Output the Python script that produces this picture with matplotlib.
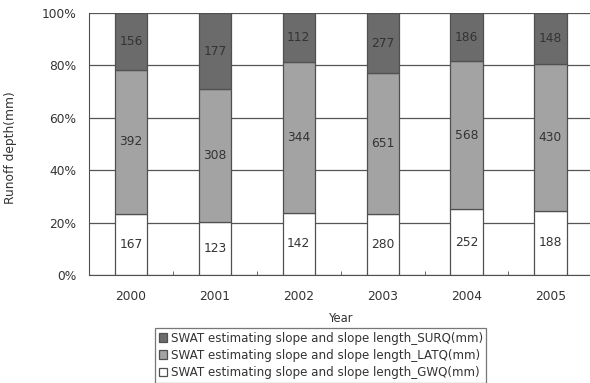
import matplotlib
matplotlib.use("Agg")
import matplotlib.pyplot as plt
import numpy as np

years = ["2000", "2001", "2002", "2003", "2004", "2005"]
gwq = [167, 123, 142, 280, 252, 188]
latq = [392, 308, 344, 651, 568, 430]
surq = [156, 177, 112, 277, 186, 148]
yticklabels = ["0%", "20%", "40%", "60%", "80%", "100%"]
legend_labels = [
    "SWAT estimating slope and slope length_SURQ(mm)",
    "SWAT estimating slope and slope length_LATQ(mm)",
    "SWAT estimating slope and slope length_GWQ(mm)",
]

plt.rcParams['font.family'] = ['DejaVu Sans']
fig = plt.figure(figsize=(5.9, 3.83), dpi=100)
ax = fig.add_axes([0.151, 0.282, 0.853, 0.684])

x = np.arange(len(years))
g = np.array(gwq, float); l = np.array(latq, float); s = np.array(surq, float)
tot = g + l + s
gp, lp, sp = g / tot * 100, l / tot * 100, s / tot * 100

ec = "#505050"
w = 0.385
ax.set_axisbelow(True)
ax.grid(axis='y', color='#555555', linewidth=0.9)
b1 = ax.bar(x, gp, w, color='white', edgecolor=ec, linewidth=0.9, label=legend_labels[2])
b2 = ax.bar(x, lp, w, bottom=gp, color='#a3a3a3', edgecolor=ec, linewidth=0.9, label=legend_labels[1])
b3 = ax.bar(x, sp, w, bottom=gp + lp, color='#6b6b6b', edgecolor=ec, linewidth=0.9, label=legend_labels[0])

tc = '#333333'
fs = 8.8
for i in range(len(years)):
    ax.text(x[i], gp[i] / 2, str(gwq[i]), ha='center', va='center', fontsize=fs, color=tc)
    ax.text(x[i], gp[i] + lp[i] / 2, str(latq[i]), ha='center', va='center', fontsize=fs, color=tc)
    ax.text(x[i], gp[i] + lp[i] + sp[i] / 2, str(surq[i]), ha='center', va='center', fontsize=fs, color=tc)

ax.set_xlim(-0.5, len(years) - 0.5)
ax.set_ylim(0, 100)
ax.set_yticks(np.arange(0, 101, 20))
ax.set_yticklabels(yticklabels, fontsize=fs, color=tc)
ax.set_xticks(x)
ax.set_xticklabels(years, fontsize=fs, color=tc)
ax.set_xticks(x[:-1] + 0.5, minor=True)
ax.tick_params(axis='x', which='major', length=0, pad=11)
ax.tick_params(axis='x', which='minor', direction='in', length=3, color=ec)
ax.tick_params(axis='y', length=0, pad=9)
for sp_name in ['top', 'right']:
    ax.spines[sp_name].set_visible(False)
ax.spines['left'].set_color(ec)
ax.spines['bottom'].set_color(ec)
ax.set_xlabel("Year", fontsize=8.3, color=tc, labelpad=6)
fig.text(0.018, 0.615, "Runoff depth(mm)", rotation=90, ha='center', va='center', fontsize=8.8, color=tc)

leg = fig.legend(handles=[b3, b2, b1], labels=legend_labels, loc='upper left',
                 bbox_to_anchor=(155 / 590, 1 - 328 / 383), fontsize=8.6, frameon=True,
                 fancybox=False, handlelength=0.7, handleheight=0.7, handletextpad=0.3,
                 labelspacing=0.35, borderpad=0.3, borderaxespad=0)
leg.get_frame().set_edgecolor('#555555')
leg.get_frame().set_linewidth(0.9)
for t in leg.get_texts():
    t.set_color(tc)

fig.savefig("out.png", dpi=100)
